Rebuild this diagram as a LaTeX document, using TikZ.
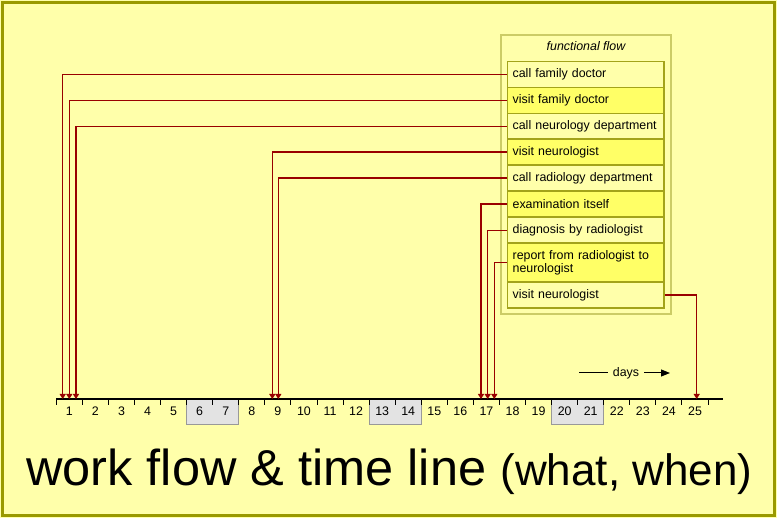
\documentclass[tikz,border=0pt]{standalone}
\usepackage{fontspec}
\setmainfont{Liberation Sans}
\usetikzlibrary{arrows.meta}

\definecolor{paper}{HTML}{FFFFAA}
\definecolor{rowyellow}{HTML}{FFFF66}
\definecolor{framecol}{HTML}{999900}
\definecolor{boxline}{HTML}{A3A31A}
\definecolor{outerline}{HTML}{CCCC66}
\definecolor{arrowred}{HTML}{990000}
\definecolor{weekendgray}{HTML}{E3E3E3}

\tikzset{
  row/.style={draw=boxline, line width=1.3pt, minimum width=156.7pt,
    minimum height=25.8pt, text width=146pt, align=left, inner sep=0pt,
    font=\fontsize{12.4}{13.3}\selectfont},
  light/.style={row, fill=paper},
  dark/.style={row, fill=rowyellow},
  flow/.style={-{Triangle[width=6pt,length=5pt]}, draw=arrowred, line width=1.1pt},
  day/.style={anchor=base, inner sep=0pt, font=\fontsize{12.4}{14}\selectfont},
  weekend/.style={fill=weekendgray, draw=gray!80, line width=1pt}
}

\begin{document}
\begin{tikzpicture}[x=1pt,y=-1pt]
  \useasboundingbox (0,0) rectangle (777,518);
  \fill[paper] (0,0) rectangle (777,518);
  \draw[framecol, line width=3pt] (2.5,2.5) rectangle (774.5,515.5);

  % functional flow
  \draw[outerline, line width=2pt] (501,35) rectangle (671,314);
  \node (ff) at (586,46) {\fontsize{12.4}{14}\selectfont\itshape functional flow};

  \node (r1) [light] at (585.65,74.5)  {call family doctor};
  \node (r2) [dark]  at (585.65,100.3) {visit family doctor};
  \node (r3) [light] at (585.65,126.2) {call neurology department};
  \node (r4) [dark]  at (585.65,152)   {visit neurologist};
  \node (r5) [light] at (585.65,178)   {call radiology department};
  \node (r6) [dark]  at (585.65,204)   {examination itself};
  \node (r7) [light] at (585.65,230.2) {diagnosis by radiologist};
  \node (r8) [dark, minimum height=39pt] at (585.65,262.8) {report from radiologist to\\neurologist};
  \node (r9) [light] at (585.65,295)   {visit neurologist};

  % time line
  \foreach \a in {5,12,19}
    \draw[weekend] ({56.3+26.07*\a},399) rectangle ++(52.14,26);
  \draw[line width=1.5pt] (56,399) -- (723,399);
  \foreach \k in {0,...,25}
    \draw[line width=1pt] ({56.3+26.07*\k},399) -- ++(0,6);
  \foreach \d in {1,...,25}
    \node (d\d) [day] at ({56.3+26.07*(\d-0.5)},415.7) {\d};

  \node (days) [inner sep=5pt, font=\fontsize{12.4}{14}\selectfont] at (626,373) {days};
  \coordinate (dl) at (579,373);
  \coordinate (dr) at (670,373);
  \draw[line width=1pt] (dl) -- (days.west);
  \draw[-{Triangle[width=7pt,length=9pt]}, line width=1pt] (days.east) -- (dr);

  % arrow ends on the time line
  \coordinate (e1) at (62.7,399);
  \coordinate (e2) at (69.3,399);
  \coordinate (e3) at (76,399);
  \coordinate (e4) at (272.3,399);
  \coordinate (e5) at (278.3,399);
  \coordinate (e6) at (481,399);
  \coordinate (e7) at (487.7,399);
  \coordinate (e8) at (494.3,399);
  \coordinate (e9) at (696.7,399);

  \draw [flow] (r1.west) -| (e1);
  \draw [flow] (r2.west) -| (e2);
  \draw [flow] (r3.west) -| (e3);
  \draw [flow] (r4.west) -| (e4);
  \draw [flow] (r5.west) -| (e5);
  \draw [flow] (r6.west) -| (e6);
  \draw [flow] (r7.west) -| (e7);
  \draw [flow] (r8.west) -| (e8);
  \draw [flow] (r9.east) -| (e9);

  \node (title) [anchor=base west, inner sep=0pt] at (26,486)
    {\fontsize{50.5}{56}\selectfont work flow \& time line
     \fontsize{44}{50}\selectfont (what, when)};
\end{tikzpicture}
\end{document}
